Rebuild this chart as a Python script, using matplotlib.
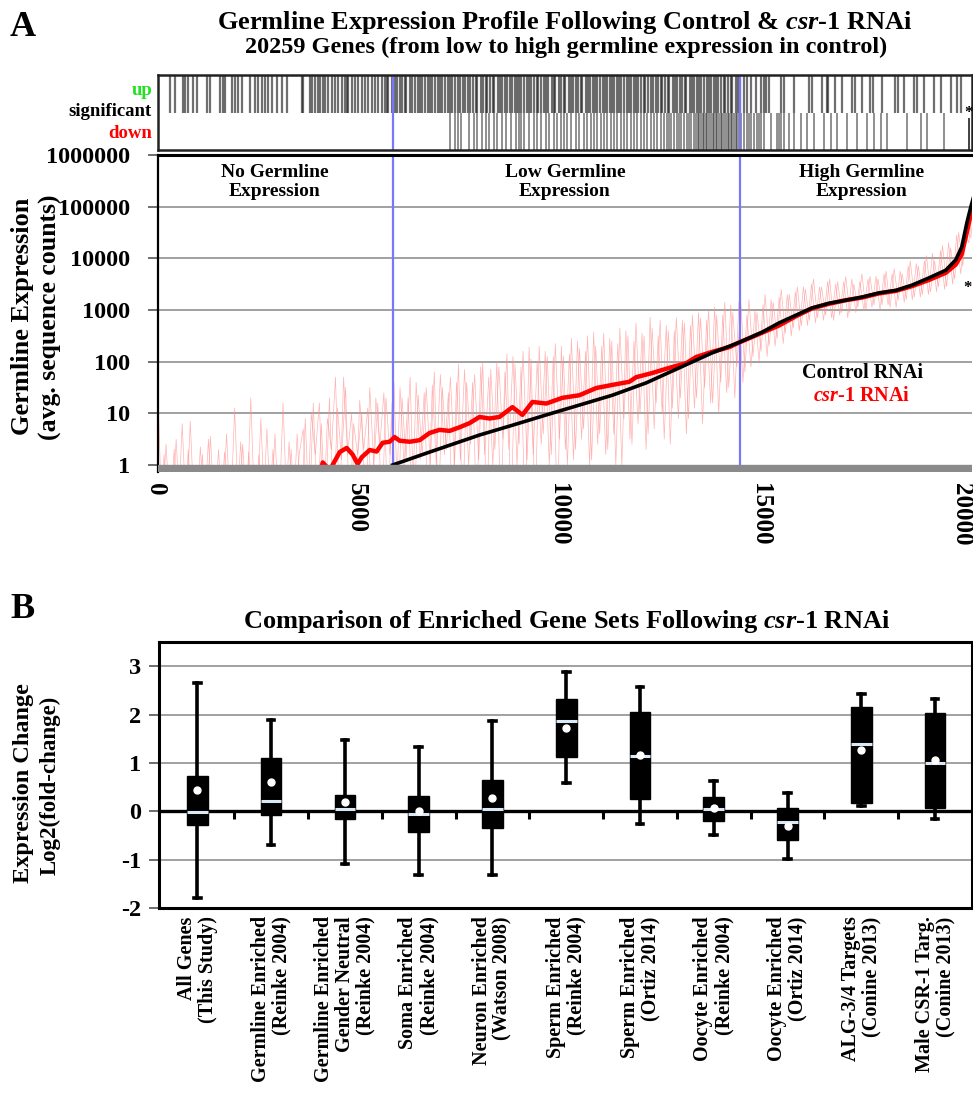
import numpy as np
import matplotlib
matplotlib.use('Agg')
import matplotlib.pyplot as plt
from matplotlib.transforms import ScaledTranslation

plt.rcParams['font.family'] = ['Liberation Serif', 'DejaVu Serif']
plt.rcParams['font.weight'] = 'bold'
plt.rcParams['mathtext.fontset'] = 'custom'
plt.rcParams['mathtext.rm'] = 'Liberation Serif:bold'
plt.rcParams['mathtext.it'] = 'Liberation Serif:italic:bold'
plt.rcParams['mathtext.bf'] = 'Liberation Serif:bold'
plt.rcParams['axes.unicode_minus'] = False
plt.rcParams['ytick.major.size'] = 7
plt.rcParams['ytick.major.width'] = 1.2
plt.rcParams['ytick.major.pad'] = 8
plt.rcParams['ytick.color'] = '#555555'
plt.rcParams['ytick.labelcolor'] = 'black'
plt.rcParams['ytick.labelsize'] = 17

# ---------------- panel A data (gene rank, log10 of avg. counts) ----------------
low_cut = 5817
high_cut = 14431

control_rank = [5817, 6733, 7970, 8787, 9629, 10446, 11262, 12104, 12921, 13738,
                14431, 14975, 15396, 15817, 16213, 16634, 17054, 17450, 17871, 18292,
                18688, 19109, 19530, 19777, 19926, 20050, 20149, 20259]
control_log = [0.0, 0.25, 0.58, 0.77, 0.97, 1.16, 1.35, 1.59, 1.88, 2.17,
               2.38, 2.57, 2.75, 2.90, 3.04, 3.13, 3.19, 3.25, 3.33, 3.38,
               3.48, 3.62, 3.77, 3.97, 4.22, 4.68, 4.99, 5.3]

csr1_rank = [4000, 4084, 4257, 4505, 4678, 4827, 4950, 5050, 5248, 5421,
             5569, 5743, 5866, 5990, 6238, 6485, 6733, 6980, 7228, 7475,
             7723, 7970, 8218, 8465, 8787, 9035, 9282, 9629, 10025, 10446,
             10866, 11262, 11683, 11856, 12252, 12673, 13094, 13342, 13738, 14158,
             14431, 14827, 15396, 15817, 16213, 16634, 17054, 17450, 17871, 18292,
             18688, 19109, 19530, 19777, 19926, 20050, 20149, 20259]
csr1_log = [-0.2, 0.05, -0.1, 0.25, 0.33, 0.2, 0.02, 0.15, 0.29, 0.26,
            0.43, 0.45, 0.54, 0.47, 0.45, 0.48, 0.62, 0.68, 0.66, 0.73,
            0.81, 0.93, 0.90, 0.93, 1.12, 0.97, 1.22, 1.19, 1.30, 1.35,
            1.49, 1.55, 1.61, 1.70, 1.78, 1.88, 1.97, 2.09, 2.19, 2.28,
            2.38, 2.51, 2.70, 2.88, 3.03, 3.12, 3.19, 3.24, 3.32, 3.37,
            3.46, 3.58, 3.72, 3.88, 4.08, 4.5, 4.85, 5.1]

# single-gene csr-1 values, genes 0, 100, 200, ...
csr1_raw_log = [1.3, -1, 0.4, -1, 0.3, -1, 0.8, -1, 0.85, -1,
                -1, 0.2, -1, 0.55, -1, 0.3, -1, 0.6, -1, 1.1,
                -1, 0.4, -1, 1.3, -1, 0.2, -1, 0.7, -1, 0.6,
                -1, 1.2, -1, 0.3, -1, 0.2, 0.7, -1, 1.0, 0.2,
                1.2, -1, 0.9, 0.3, 1.7, -1, 1.7, 0.2, 1.0, -1,
                1.25, 0.3, 1.1, -1, 1.3, 0.4, 1.4, -1, 1.2, -1,
                1.5, 0.0, 1.3, -1, 1.6, 0.1, 1.4, -1, 1.55, 0.0,
                1.75, 0.2, 1.4, -1, 1.6, 0.1, 1.85, 0.0, 1.6, -1,
                1.9, 0.2, 1.7, 0.0, 2.0, -1, 1.8, 0.3, 2.1, 0.0,
                1.9, -1, 2.28, 0.2, 2.0, 0.4, 2.2, 0.0, 2.1, -1,
                2.3, 0.3, 2.15, 0.1, 2.4, 0.5, 2.2, 0.0, 2.57, 0.4,
                2.3, 0.2, 2.45, 0.6, 2.35, 0.0, 2.6, 0.5, 2.4, 0.8,
                2.55, 0.3, 2.86, 0.7, 2.5, 1.0, 2.7, 0.4, 2.6, 0.9,
                2.8, 0.6, 2.7, 1.1, 2.95, 0.8, 2.8, 1.2, 3.06, 1.0,
                2.9, 1.4, 3.1, 1.3, 3.15, 1.6, 2.9, 1.9, 3.0, 2.0,
                3.1, 2.1, 3.2, 2.3, 3.25, 2.35, 3.3, 2.5, 3.35, 2.6,
                3.45, 2.7, 3.5, 2.75, 3.45, 2.8, 3.55, 2.85, 3.5, 2.9,
                3.55, 2.85, 3.6, 2.95, 3.55, 3.0, 3.6, 3.05, 3.65, 3.0,
                3.7, 3.1, 3.7, 3.05, 3.75, 3.15, 3.85, 3.2, 3.9, 3.25,
                3.95, 3.3, 4.1, 3.35, 4.15, 3.4, 4.3, 3.5, 4.45, 3.7,
                4.5, 4.3, 5.0]
# single-gene csr-1 values, genes 50, 150, 250, ...
csr1_raw2_log = [-1, 0.2, -1, -1, 0.5, -1, -1, 0.3, -1, -1,
                 0.35, -1, 0.5, -1, -1, -1, 0.25, -1, -1, -1,
                 0.45, -1, 0.25, -1, -1, 0.9, -1, -1, 0.3, -1,
                 -1, -1, 0.45, -1, 0.6, -1, 0.9, -1, 1.2, -1,
                 0.8, -1, 1.3, -1, 1.1, 0.1, 1.5, -1, 0.8, 0.2,
                 1.0, -1, 1.5, 0.0, 1.2, -1, 1.3, 0.2, 1.6, -1,
                 1.3, 0.1, 1.7, -1, 1.35, 0.2, 1.5, 0.0, 1.8, -1,
                 1.5, 0.3, 1.7, 0.0, 1.95, -1, 1.6, 0.4, 1.75, 0.1,
                 2.0, -1, 1.85, 0.3, 1.9, 0.5, 2.15, -1, 1.95, 0.4,
                 2.2, 0.1, 2.05, -1, 2.3, 0.6, 2.1, 0.2, 2.35, 0.5,
                 2.1, 0.0, 2.45, 0.3, 2.25, 0.7, 2.5, 0.1, 2.3, 0.6,
                 2.55, 0.3, 2.4, 0.0, 2.65, 0.9, 2.5, 0.4, 2.75, 1.0,
                 2.5, 0.6, 2.65, 1.2, 2.8, 0.5, 2.6, 1.1, 2.85, 1.3,
                 2.75, 0.9, 2.9, 1.3, 2.85, 1.5, 3.0, 1.2, 2.9, 1.6,
                 3.15, 1.5, 2.95, 1.9, 3.1, 1.8, 3.2, 2.1, 2.95, 2.2,
                 3.3, 2.3, 3.15, 2.45, 3.4, 2.55, 3.3, 2.65, 3.45, 2.7,
                 3.4, 2.8, 3.6, 2.85, 3.45, 2.9, 3.6, 2.8, 3.55, 2.95,
                 3.65, 2.95, 3.5, 3.05, 3.7, 3.0, 3.65, 3.1, 3.6, 3.1,
                 3.75, 3.05, 3.8, 3.2, 3.7, 3.2, 3.95, 3.25, 3.85, 3.3,
                 4.05, 3.35, 3.95, 3.45, 4.25, 3.45, 4.2, 3.6, 4.5, 3.85,
                 4.6, 4.4, 5.1]

# significantly changed genes (rank positions)
up_rank = [297, 421, 619, 668, 743, 866, 965, 1213, 1287, 1535, 1609, 1658, 1832, 1906,
           1980, 2079, 2277, 2401, 2475, 2574, 2648, 2723, 2822, 2945, 3069, 3193, 3564,
           3589, 3762, 3812, 3886, 3960, 4010, 4084, 4133, 4208, 4307, 4381, 4455, 4554,
           4628, 4678, 4703, 4802, 4876, 4950, 5049, 5123, 5198, 5297, 5371, 5445, 5544,
           5618, 5668, 5693, 5792,
           5866, 5915, 5990, 6039, 6113, 6150, 6240, 6287, 6361, 6435, 6500, 6534, 6609,
           6683, 6750, 6790, 6870, 6930, 7000, 7040, 7110, 7180, 7250, 7290, 7370, 7440,
           7480, 7560, 7620, 7690, 7730, 7800, 7880, 7920, 8000, 8050, 8120, 8160, 8240,
           8300, 8330, 8420, 8490, 8530, 8600, 8660, 8720, 8770, 8850, 8900, 8960, 9000,
           9070, 9150, 9200, 9240, 9330, 9390, 9430, 9500, 9570, 9630, 9680, 9760, 9810,
           9850, 9930, 10000, 10060, 10100, 10180, 10240, 10280, 10360, 10420, 10480,
           10520, 10600, 10660, 10700, 10780, 10840, 10880, 10960, 11020, 11080, 11120,
           11200, 11260, 11300, 11380, 11440, 11480, 11560, 11620, 11680, 11720, 11800,
           11860, 11900, 11980, 12040, 12080, 12160, 12220, 12260, 12340, 12400, 12460,
           12500, 12580, 12640, 12680, 12760, 12820, 12860, 12940, 13000, 13060, 13100,
           13180, 13240, 13280, 13360, 13420, 13460, 13540, 13600, 13660, 13700, 13780,
           13840, 13880, 13960, 14020, 14060, 14140, 14200, 14240, 14320, 14380, 14440,
           14530, 14604, 14703, 14827, 14950, 15025, 15074, 15149, 15446, 15520, 15767,
           16139, 16213, 16460, 16584, 16609, 16782, 16955, 17203, 17277, 17450, 17648,
           17723, 17945, 18267, 18341, 18490, 18737, 18811, 18985, 19232, 19406, 19654,
           19802, 19901]
down_rank = [7227, 7351, 7425, 7524, 7722, 7846, 7920, 8044, 8143, 8217, 8341, 8415, 8539,
             8638, 8762, 8886, 8960, 9009, 9083, 9207, 9331, 9405, 9504, 9628, 9702, 9826,
             9900, 9999, 10073, 10148, 10247, 10370, 10445, 10568, 10643, 10742, 10816,
             10890, 10989, 11063, 11138, 11237, 11311, 11385, 11484, 11558, 11633, 11732,
             11806, 11880, 11979, 12053, 12128, 12227, 12301, 12375, 12474, 12548, 12623,
             12722, 12796, 12870, 12969, 13043, 13118, 13217, 13291, 13340, 13415, 13464,
             13538, 13588, 13662, 13712, 13786, 13835, 13910, 13959, 14033, 14083, 14157,
             14207, 14281, 14330, 14405, 14529, 14603, 14702, 14776, 14850, 14949, 15023,
             15197, 15345, 15395, 15444, 15519, 15642, 15766, 15939, 16088, 16261, 16508,
             16682, 16830, 17078, 17325, 17573, 17746, 17919, 18068, 18563, 18909, 19058,
             19478,
             12680, 12920, 13170, 13380, 13500, 13620, 13750, 13870, 13990, 14120, 14240,
             14360, 14460, 14650, 14900]
starred_rank = 20100

# ---------------- panel B data (log2 fold change) ----------------
set_labels = ["All Genes\n(This Study)", "Germline Enriched\n(Reinke 2004)",
              "Germline Enriched\nGender Neutral\n(Reinke 2004)", "Soma Enriched\n(Reinke 2004)",
              "Neuron Enriched\n(Watson 2008)", "Sperm Enriched\n(Reinke 2004)",
              "Sperm Enriched\n(Ortiz 2014)", "Oocyte Enriched\n(Reinke 2004)",
              "Oocyte Enriched\n(Ortiz 2014)", "ALG-3/4 Targets\n(Conine 2013)",
              "Male CSR-1 Targ.\n(Conine 2013)"]
whisker_low = [-1.80, -0.70, -1.08, -1.32, -1.31, 0.58, -0.26, -0.49, -0.98, 0.10, -0.17]
quart1 = [-0.29, -0.08, -0.17, -0.42, -0.34, 1.12, 0.25, -0.20, -0.59, 0.17, 0.06]
median = [-0.02, 0.22, 0.04, -0.05, 0.05, 1.86, 1.15, 0.05, -0.23, 1.39, 0.99]
quart3 = [0.72, 1.11, 0.33, 0.31, 0.64, 2.33, 2.05, 0.29, 0.06, 2.15, 2.03]
whisker_high = [2.66, 1.88, 1.48, 1.32, 1.87, 2.89, 2.57, 0.62, 0.38, 2.43, 2.33]
mean = [0.43, 0.60, 0.20, 0.00, 0.27, 1.73, 1.17, 0.07, -0.30, 1.26, 1.07]

W, H = 973, 1110
fig = plt.figure(figsize=(W / 100, H / 100), dpi=100)


def px(x, y):
    return x / W, 1 - y / H


def box(x0, y0, x1, y1):
    return [x0 / W, 1 - y1 / H, (x1 - x0) / W, (y1 - y0) / H]


x_max = 20180
blue = '#7878ff'

# ---- rug of significant genes ----
ax_rug = fig.add_axes(box(158, 75, 972, 150))
ax_rug.vlines(up_rank, 1.0, 2.0, color='#222222', alpha=0.65, lw=1.6)
ax_rug.vlines(down_rank, 0.0, 1.0, color='#222222', alpha=0.5, lw=1.4)
ax_rug.vlines([starred_rank], 0.0, 0.85, color='#222222', lw=1.2)
ax_rug.text(starred_rank, 0.78, '*', ha='center', va='bottom', fontsize=12)
ax_rug.axvline(low_cut, color=blue, lw=1.6)
ax_rug.axvline(high_cut, color=blue, lw=1.6)
ax_rug.set_xlim(0, x_max)
ax_rug.set_ylim(0, 2)
ax_rug.set_xticks([])
ax_rug.set_yticks([])
for s in ax_rug.spines.values():
    s.set_linewidth(1.8)
    s.set_color('#222222')

fig.text(*px(152, 90), 'up', color='#22e022', ha='right', va='center', fontsize=13.5)
fig.text(*px(152, 111), 'significant', color='black', ha='right', va='center', fontsize=13.5)
fig.text(*px(152, 133), 'down', color='red', ha='right', va='center', fontsize=13.5)

# ---- expression profile ----
ax = fig.add_axes(box(158, 155, 972, 472))
ax.set_yscale('log')
ax.set_ylim(0.732, 1e6)
ax.set_xlim(0, x_max)
for v in [10, 100, 1000, 10000, 100000]:
    ax.axhline(v, color='#9a9a9a', lw=1.3, zorder=1)
raw_rank = np.arange(len(csr1_raw_log)) * 100
raw2_rank = np.arange(len(csr1_raw2_log)) * 100 + 50
ax.plot(raw_rank, 10 ** np.array(csr1_raw_log), color='#ff8c8c', lw=0.5, alpha=0.65, zorder=2)
ax.plot(raw2_rank, 10 ** np.array(csr1_raw2_log), color='#ff8c8c', lw=0.5, alpha=0.65, zorder=2)
ax.axvline(low_cut, color=blue, lw=1.6, zorder=2.5)
ax.axvline(high_cut, color=blue, lw=1.6, zorder=2.5)
ax.plot(csr1_rank, 10 ** np.array(csr1_log), color='red', lw=3.2, zorder=3)
ax.plot(control_rank, 10 ** np.array(control_log), color='black', lw=2.6, zorder=4)
ax.axhspan(0.732, 1.0, color='#8a8a8a', zorder=5)

ax.yaxis.set_major_locator(matplotlib.ticker.FixedLocator([1, 10, 100, 1000, 10000, 100000, 1000000]))
ax.yaxis.set_major_formatter(matplotlib.ticker.FixedFormatter(
    ['1', '10', '100', '1000', '10000', '100000', '1000000']))
ax.yaxis.set_minor_locator(matplotlib.ticker.NullLocator())
ax.tick_params(axis='y', which='major', direction='out', length=7, pad=13, labelsize=17.5)
ax.set_xticks([0, 5000, 10000, 15000, 20000])
ax.set_xticklabels(['0', '5000', '10000', '15000', '20000'], rotation=270)
ax.tick_params(axis='x', length=0, pad=8, labelsize=18)
for lab in ax.get_xticklabels():
    lab.set_transform(lab.get_transform() + ScaledTranslation(-0.03, 0, fig.dpi_scale_trans))
ax.spines['top'].set_linewidth(2.2)
ax.spines['left'].set_linewidth(1.6)
ax.spines['right'].set_visible(False)
ax.spines['bottom'].set_visible(False)

fig.text(*px(275, 182), 'No Germline\nExpression', ha='center', va='center', fontsize=14,
         linespacing=1.1)
fig.text(*px(565, 182), 'Low Germline\nExpression', ha='center', va='center', fontsize=14,
         linespacing=1.1)
fig.text(*px(862, 182), 'High Germline\nExpression', ha='center', va='center', fontsize=14,
         linespacing=1.1)
fig.text(*px(862, 373), 'Control RNAi', ha='center', va='center', fontsize=14.5)
fig.text(*px(862, 396), r'$\mathit{csr}$-$\mathit{1}$ RNAi', color='red', ha='center',
         va='center', fontsize=14.5)
fig.text(*px(967, 288), '*', ha='center', va='center', fontsize=12)

fig.text(*px(23, 316), 'Germline Expression', rotation=90, ha='center', va='center',
         fontsize=19)
fig.text(*px(50, 317), '(avg. sequence counts)', rotation=90, ha='center', va='center',
         fontsize=18.5)

fig.text(*px(10, 36), 'A', fontsize=26, ha='left', va='baseline')
fig.text(*px(565, 29), r'Germline Expression Profile Following Control & $\mathit{csr}$-$\mathit{1}$ RNAi',
         ha='center', va='baseline', fontsize=19)
fig.text(*px(566, 53), '20259 Genes (from low to high germline expression in control)',
         ha='center', va='baseline', fontsize=17.5)

# ---------------- panel B ----------------
fig.text(*px(10, 618), 'B', fontsize=26, ha='left', va='baseline')
fig.text(*px(567, 628), r'Comparison of Enriched Gene Sets Following $\mathit{csr}$-$\mathit{1}$ RNAi',
         ha='center', va='baseline', fontsize=19)

axb = fig.add_axes(box(159, 642, 972, 908))
stats = []
for i in range(len(set_labels)):
    stats.append(dict(whislo=whisker_low[i], q1=quart1[i], med=median[i], q3=quart3[i],
                      whishi=whisker_high[i], mean=mean[i], fliers=[]))
positions = np.arange(len(set_labels))
for v in [3, 2, 1, -1]:
    axb.axhline(v, color='#9a9a9a', lw=1.3, zorder=1)
axb.axhline(0, color='black', lw=2.4, zorder=2)
axb.vlines(positions[:-1] + 0.5, -0.16, 0, color='black', lw=2.2, zorder=2)
axb.bxp(stats, positions=positions, widths=0.28, showmeans=True, showfliers=False,
        patch_artist=True, capwidths=0.09,
        boxprops=dict(facecolor='black', edgecolor='black', lw=1),
        medianprops=dict(color='#dbe8f6', lw=2.2),
        whiskerprops=dict(color='black', lw=2.6),
        capprops=dict(color='black', lw=2.6),
        meanprops=dict(marker='o', markerfacecolor='white', markeredgecolor='white',
                       markersize=5))
axb.set_xlim(-0.52, 10.5)
axb.set_ylim(-2, 3.5)
axb.set_yticks([-2, -1, 0, 1, 2, 3])
axb.set_yticklabels(['-2', '-1', '0', '1', '2', '3'])
axb.tick_params(axis='y', direction='out', length=7, pad=6, labelsize=17.5)
axb.set_xticks(positions)
axb.set_xticklabels(set_labels, rotation=90, ha='center', va='top',
                    multialignment='right', linespacing=1.05)
axb.tick_params(axis='x', length=0, pad=6, labelsize=14.5)
for s in axb.spines.values():
    s.set_linewidth(2.2)

fig.text(*px(24, 783), 'Expression Change', rotation=90, ha='center', va='center', fontsize=17.5)
fig.text(*px(50, 785), 'Log2(fold-change)', rotation=90, ha='center', va='center', fontsize=16.5)

fig.savefig('out.png', dpi=100)
